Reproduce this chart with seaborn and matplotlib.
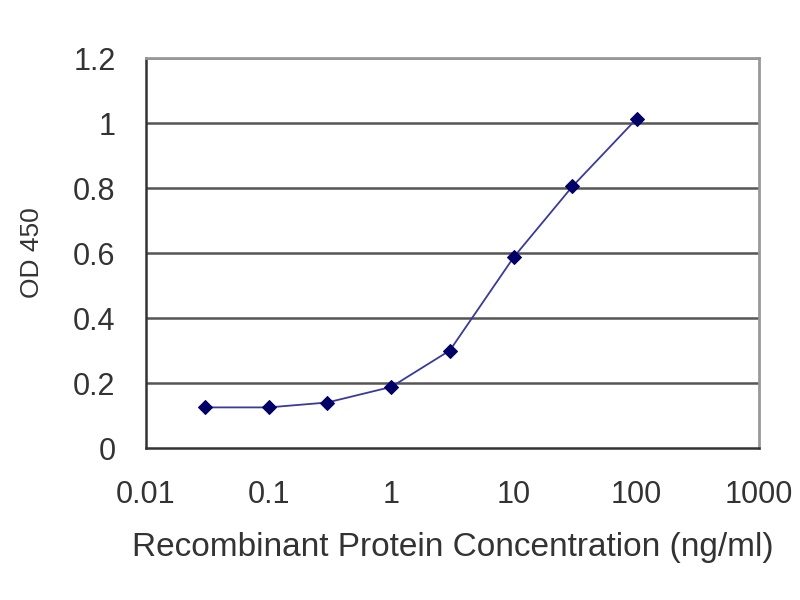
import numpy as np
import pandas as pd
import seaborn as sns
import matplotlib
matplotlib.use("Agg")
import matplotlib.pyplot as plt
from matplotlib.ticker import FixedLocator, FixedFormatter, NullLocator

# DATA
conc = [0.03, 0.1, 0.3, 1, 3, 10, 30, 100]
od450 = [0.125, 0.125, 0.14, 0.188, 0.30, 0.588, 0.805, 1.013]
xticks = [0.01, 0.1, 1, 10, 100, 1000]
xlabels = ["0.01", "0.1", "1", "10", "100", "1000"]
yticks = [0, 0.2, 0.4, 0.6, 0.8, 1, 1.2]
ylabels = ["0", "0.2", "0.4", "0.6", "0.8", "1", "1.2"]

df = pd.DataFrame({"conc": conc, "od": od450})

sns.set_theme(style="white")
plt.rcParams["font.family"] = ["Liberation Sans", "DejaVu Sans"]

fig = plt.figure(figsize=(8, 6), dpi=100)
ax = fig.add_axes([0.1825, 0.2533, 0.7665, 0.65])

# horizontal gridlines
for y in yticks[1:]:
    ax.axhline(y, color="#555555", lw=1.8, zorder=1)

sns.lineplot(data=df, x="conc", y="od", ax=ax, color="#3a3a9a", lw=1.3,
             marker="D", markersize=7, markerfacecolor="#000066",
             markeredgecolor="#000066", zorder=3)

ax.set_xscale("log")
ax.set_xlim(0.01, 1000)
ax.set_ylim(0, 1.2)
ax.xaxis.set_major_locator(FixedLocator(xticks))
ax.xaxis.set_major_formatter(FixedFormatter(xlabels))
ax.xaxis.set_minor_locator(NullLocator())
ax.yaxis.set_major_locator(FixedLocator(yticks))
ax.yaxis.set_major_formatter(FixedFormatter(ylabels))

for side in ["left", "bottom"]:
    ax.spines[side].set_color("#333333")
    ax.spines[side].set_linewidth(1.8)
for side in ["top", "right"]:
    ax.spines[side].set_color("#999999")
    ax.spines[side].set_linewidth(2)

ax.tick_params(axis="both", which="major", labelsize=22, colors="#333333",
               length=3, width=1.5, direction="out")
ax.tick_params(axis="y", pad=19)
ax.tick_params(axis="x", pad=20)
ax.set_xlabel("Recombinant Protein Concentration (ng/ml)", fontsize=24,
              color="#333333", labelpad=16)
ax.set_ylabel("OD 450", fontsize=19, color="#333333", labelpad=21)

fig.savefig("out.png", dpi=100)
